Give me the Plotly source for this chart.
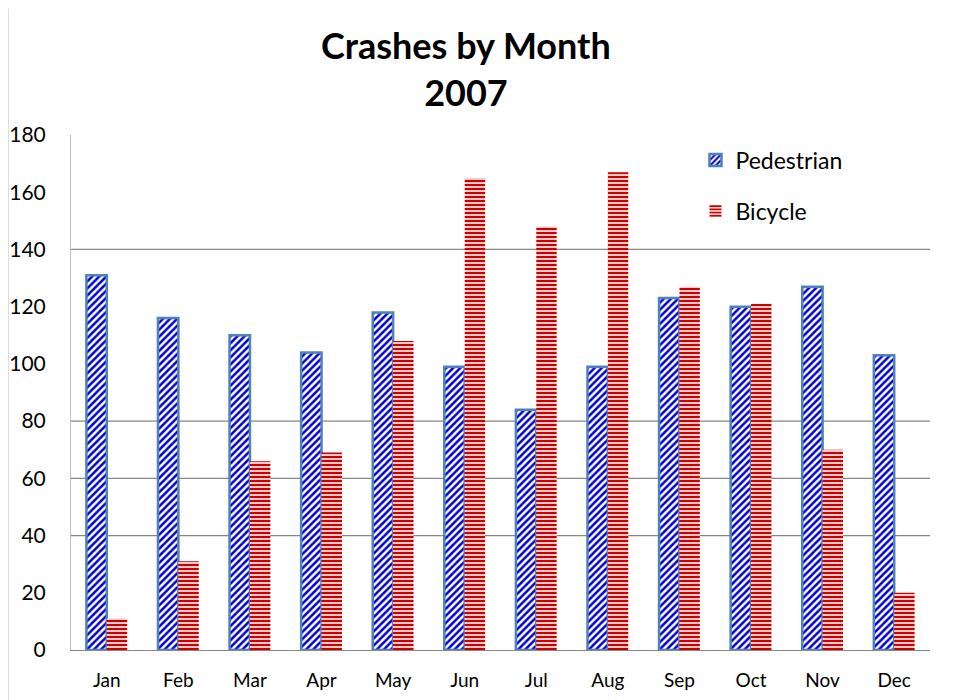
import plotly.graph_objects as go

months = ["Jan", "Feb", "Mar", "Apr", "May", "Jun", "Jul", "Aug", "Sep", "Oct", "Nov", "Dec"]
pedestrian = [131, 116, 110, 104, 118, 99, 84, 99, 123, 120, 127, 103]
bicycle = [11, 31, 66, 69, 108, 165, 148, 167, 127, 121, 70, 20]
y_ticks = [0, 20, 40, 60, 80, 100, 120, 140, 160, 180]
grid_values = [40, 60, 80, 140]

FONT = "Lato"

fig = go.Figure()
fig.add_trace(go.Bar(
    x=months, y=pedestrian, name="Pedestrian", legendgroup="p",
    marker=dict(color="white", line=dict(color="#4F81BD", width=2.5),
                pattern=dict(shape="/", fgcolor="#0000CC", bgcolor="white",
                             size=5, solidity=0.5, fgopacity=1)),
))
fig.add_trace(go.Bar(
    x=months, y=bicycle, name="Bicycle", legendgroup="b",
    marker=dict(color="white", line=dict(width=0),
                pattern=dict(shape="-", fgcolor="#CC0000", bgcolor="white",
                             size=4, solidity=0.6, fgopacity=1)),
))

shapes = []
for g in grid_values:
    shapes.append(dict(type="line", xref="paper", yref="y", x0=0, x1=1, y0=g, y1=g,
                       line=dict(color="#868686", width=1.3), layer="below"))
# outer chart border on the left
shapes.append(dict(type="line", xref="paper", yref="paper", x0=-0.0733, x1=-0.0733,
                   y0=-0.12, y1=1.245, line=dict(color="#BFBFBF", width=1)))

fig.update_layout(
    width=950, height=692,
    margin=dict(l=63, r=28, t=127, b=50, autoexpand=False),
    paper_bgcolor="white", plot_bgcolor="white",
    title=dict(text="<b>Crashes by Month<br>2007</b>", x=0.482, xanchor="center",
               y=0.926, yanchor="middle",
               font=dict(family=FONT, size=36, color="black")),
    barmode="group", bargap=0.43, bargroupgap=0,
    showlegend=True,
    legend=dict(x=0.727, y=0.993, xanchor="left", yanchor="top",
                font=dict(family=FONT, size=23, color="black"),
                bgcolor="rgba(0,0,0,0)", tracegroupgap=18,
                itemwidth=30),
    xaxis=dict(showgrid=False, showline=True, linecolor="#868686", linewidth=1.3,
               automargin=False,
               ticks="outside", ticklen=13, tickcolor="rgba(0,0,0,0)",
               tickfont=dict(family=FONT, size=19, color="black")),
    yaxis=dict(range=[0, 180], tickvals=y_ticks, showgrid=False, zeroline=False,
               automargin=False,
               showline=True, linecolor="#BFBFBF", linewidth=1,
               ticks="outside", ticklen=20, tickcolor="rgba(0,0,0,0)",
               tickfont=dict(family=FONT, size=21, color="black")),
    shapes=shapes,
)

fig.write_html("out.html")
